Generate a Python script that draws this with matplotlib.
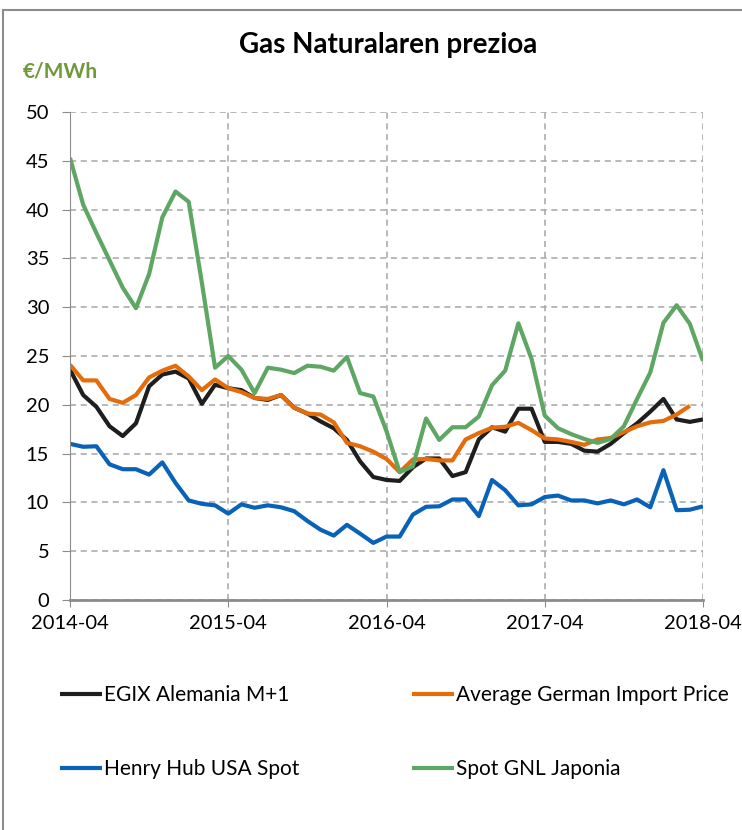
import numpy as np
import pandas as pd
import matplotlib
matplotlib.use("Agg")
import matplotlib.pyplot as plt
from matplotlib.patches import Rectangle

plt.rcParams['font.family'] = ['Lato', 'DejaVu Sans']

# monthly data, 2014-04 .. 2018-04 (EUR/MWh)
months = pd.date_range("2014-04-01", "2018-04-01", freq="MS")

egix = [23.6, 21.0, 19.8, 17.8, 16.8, 18.1, 21.9, 23.1, 23.4, 22.7, 20.1, 22.05,
        21.7, 21.5, 20.7, 20.5, 21.0, 19.7, 19.1, 18.3, 17.6, 16.4, 14.2, 12.6,
        12.3, 12.2, 13.6, 14.5, 14.5, 12.7, 13.1, 16.45, 17.7, 17.25, 19.6, 19.6,
        16.2, 16.2, 16.0, 15.3, 15.2, 16.0, 17.1, 18.1, 19.3, 20.6, 18.5, 18.25,
        18.5]

german_import = [24.1, 22.5, 22.5, 20.6, 20.2, 21.0, 22.8, 23.5, 24.0, 22.9, 21.5, 22.6,
                 21.7, 21.3, 20.7, 20.6, 21.0, 19.7, 19.1, 19.0, 18.2, 16.1, 15.75, 15.2,
                 14.45, 13.1, 14.4, 14.45, 14.3, 14.3, 16.45, 17.1, 17.65, 17.75, 18.15, 17.4,
                 16.55, 16.45, 16.2, 15.9, 16.45, 16.6, 17.2, 17.8, 18.2, 18.35, 19.0, 19.9]

henry_hub = [16.0, 15.7, 15.75, 13.9, 13.4, 13.4, 12.85, 14.1, 12.0, 10.2, 9.85, 9.7,
             8.85, 9.8, 9.45, 9.7, 9.5, 9.1, 8.1, 7.2, 6.6, 7.7, 6.8, 5.85,
             6.5, 6.5, 8.75, 9.55, 9.6, 10.3, 10.3, 8.6, 12.3, 11.25, 9.7, 9.8,
             10.55, 10.7, 10.2, 10.2, 9.9, 10.2, 9.8, 10.3, 9.5, 13.3, 9.2, 9.25,
             9.6]

gnl_japan = [45.3, 40.5, 37.6, 34.8, 32.0, 29.9, 33.4, 39.2, 41.85, 40.8, 32.5, 23.8,
             25.0, 23.6, 21.2, 23.8, 23.6, 23.25, 24.0, 23.9, 23.5, 24.9, 21.2, 20.85,
             17.3, 13.1, 13.7, 18.6, 16.4, 17.7, 17.7, 18.8, 22.0, 23.5, 28.35, 24.7,
             18.9, 17.6, 17.0, 16.5, 16.1, 16.5, 17.8, 20.6, 23.3, 28.4, 30.2, 28.3,
             24.5]

labels = ["EGIX Alemania M+1", "Average German Import Price",
          "Henry Hub USA Spot", "Spot GNL Japonia"]
colors = ["#1e1e1e", "#e46c0a", "#0a62b8", "#5ea663"]

x = np.arange(len(months))

fig = plt.figure(figsize=(7.42, 8.30), dpi=100)
ax = fig.add_axes([70 / 742, 1 - 600 / 830, 633 / 742, 488 / 830])

lines = []
for y, c, lab in zip([egix, german_import, henry_hub, gnl_japan], colors, labels):
    ln, = ax.plot(x[:len(y)], y, color=c, lw=3.0, label=lab, solid_capstyle='butt')
    lines.append(ln)

ax.set_xlim(0, len(months) - 1)
ax.set_ylim(0, 50)
ax.set_yticks(np.arange(0, 51, 5))
xt = np.arange(0, len(months), 12)
ax.set_xticks(xt)
ax.set_xticklabels([months[i].strftime("%Y-%m") for i in xt])

ax.grid(True, color="#a6a6a6", ls=(0, (4, 3)), lw=1.1)
ax.set_axisbelow(True)
for s in ["top", "right"]:
    ax.spines[s].set_visible(False)
ax.spines["left"].set_color("#8c8c8c")
ax.spines["bottom"].set_color("#8c8c8c")
ax.spines["bottom"].set_linewidth(2)
ax.tick_params(axis="y", length=6, color="#8c8c8c", labelsize=14.5, pad=9)
ax.tick_params(axis="x", length=5, color="#8c8c8c", labelsize=14.5, pad=6)

fig.text(388 / 742, 1 - 45 / 830, "Gas Naturalaren prezioa", ha="center", va="center",
         fontsize=20, fontweight="bold")
fig.text(23 / 742, 1 - 72 / 830, "€/MWh", ha="left", va="center",
         fontsize=15, fontweight="bold", color="#6f9a3c")

order = [0, 2, 1, 3]
fig.legend([lines[i] for i in order], [labels[i] for i in order], ncol=2,
           loc="upper left", bbox_to_anchor=(60 / 742, 1 - 685 / 830),
           frameon=False, fontsize=15, handlelength=2.0, handletextpad=0.12,
           columnspacing=5.4, labelspacing=2.6, borderpad=0, borderaxespad=0)

fig.patches.append(Rectangle((3 / 742, -0.1), 1.2, 1 - 10 / 830 + 0.1,
                             transform=fig.transFigure, fill=False,
                             edgecolor="#8c8c8c", lw=1.5))

fig.savefig("out.png", dpi=100)
